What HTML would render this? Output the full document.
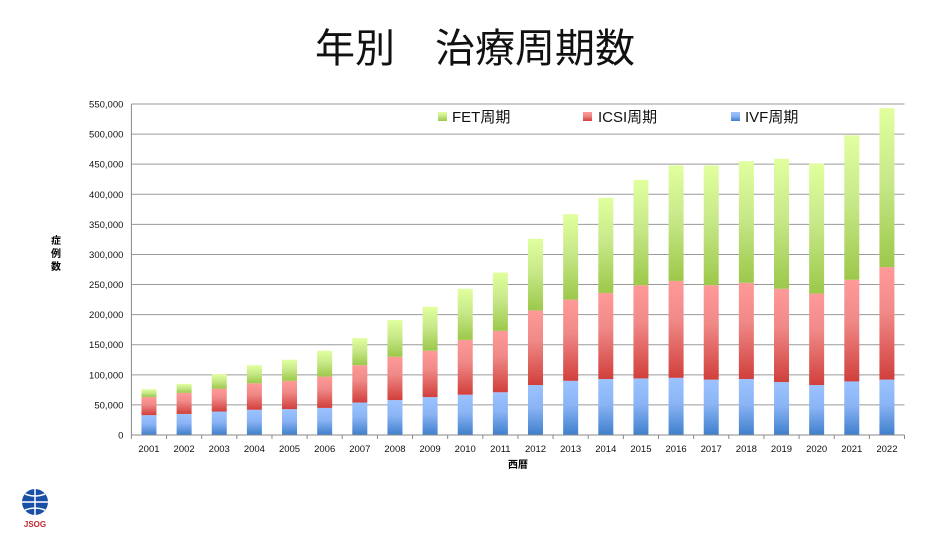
<!DOCTYPE html>
<html><head><meta charset="utf-8"><style>
body{margin:0;background:#fff;width:949px;height:537px;overflow:hidden;font-family:"Liberation Sans","Noto Sans CJK JP",sans-serif}
</style></head><body>
<svg width="949" height="537">
<defs>
<linearGradient id="gb" x1="0" y1="0" x2="0" y2="1"><stop offset="0" stop-color="#9cc3ff"/><stop offset="0.45" stop-color="#8ab4f5"/><stop offset="1" stop-color="#3f7fcc"/></linearGradient>
<linearGradient id="gr" x1="0" y1="0" x2="0" y2="1"><stop offset="0" stop-color="#ff9a98"/><stop offset="0.4" stop-color="#f08a88"/><stop offset="1" stop-color="#d13f3c"/></linearGradient>
<linearGradient id="gg" x1="0" y1="0" x2="0" y2="1"><stop offset="0" stop-color="#e1ff9e"/><stop offset="0.45" stop-color="#c8e98a"/><stop offset="1" stop-color="#9cc84a"/></linearGradient>
</defs>
<text x="475" y="62" font-size="40" text-anchor="middle" fill="#111">年別　治療周期数</text>
<g id="grid"></g>
<g id="bars"></g>
<g id="axes"></g>
<text x="518" y="468" font-size="10" font-weight="bold" text-anchor="middle">西暦</text>
<g font-size="10" font-weight="bold" text-anchor="middle">
<text x="56" y="244">症</text><text x="56" y="257">例</text><text x="56" y="270">数</text></g>
<g font-size="15" fill="#111">
<g><rect x="438" y="112" width="9" height="9" fill="url(#gg)"/><text x="452" y="122">FET周期</text></g>
<g><rect x="583" y="112" width="9" height="9" fill="url(#gr)"/><text x="598" y="122">ICSI周期</text></g>
<g><rect x="731" y="112" width="9" height="9" fill="url(#gb)"/><text x="745" y="122">IVF周期</text></g>
</g>
<g>
<circle cx="35" cy="502" r="13" fill="#1a4fa8"/>
<path d="M22 502h26M35 489v26M25 494q10 4 20 0M25 510q10-4 20 0" stroke="#fff" stroke-width="1.5" fill="none"/>
<text x="35" y="527" font-size="8" font-weight="bold" fill="#c0282d" text-anchor="middle">JSOG</text>
</g>
</svg>
<script>
const years=["2001","2002","2003","2004","2005","2006","2007","2008","2009","2010","2011","2012","2013","2014","2015","2016","2017","2018","2019","2020","2021","2022"];
const ivf=[33000,35000,39000,42000,43000,45000,54000,58000,63000,67000,71000,83000,90000,93000,94000,95000,92000,93000,88000,83000,89000,92000];
const icsi=[30000,35000,38000,44000,47000,52000,62000,72000,77000,91000,102000,124000,135000,143000,155000,161000,157000,160000,155000,152000,169000,187000];
const fet=[13000,15000,24000,30000,35000,43000,45000,61000,73000,85000,97000,119000,142000,158000,175000,192000,199000,202000,216000,216000,240000,264000];
const yTicks=[0,50000,100000,150000,200000,250000,300000,350000,400000,450000,500000,550000];
const NS="http://www.w3.org/2000/svg";
const L=131.4,R=904.5,Y0=435,Ytop=104,YMAX=550000;
const band=(R-L)/years.length,bw=15;
const yS=v=>Y0-(v/YMAX)*(Y0-Ytop);
const xC=i=>L+band*(i+0.5);
function mk(t,a,p){const e=document.createElementNS(NS,t);for(const k in a)e.setAttribute(k,a[k]);p.appendChild(e);return e;}
const grid=document.getElementById('grid'),bars=document.getElementById('bars'),axes=document.getElementById('axes');
yTicks.forEach(v=>{
 const y=yS(v);
 if(v>0){const g=mk('line',{x1:L,x2:R,y1:y,y2:y,stroke:'#9a9a9a','stroke-width':1},grid);
 
 }
 const t=mk('text',{x:L-8,y:y+3.5,'font-size':9.5,'text-anchor':'end',fill:'#111'},axes);
 t.textContent=v.toLocaleString('en-US');
 
 
});
mk('line',{x1:L,x2:L,y1:Ytop,y2:Y0,stroke:'#888'},axes);
mk('line',{x1:L,x2:R,y1:Y0,y2:Y0,stroke:'#888'},axes);
years.forEach((yr,i)=>{
 const x=xC(i);
 mk('line',{x1:L+band*i,x2:L+band*i,y1:Y0,y2:Y0+4,stroke:'#888'},axes);
 const t=mk('text',{x:x,y:Y0+17,'font-size':9.5,'text-anchor':'middle',fill:'#111'},axes);
 t.textContent=yr;
 
 
 let base=0;
 [[ivf,'gb','ivf'],[icsi,'gr','icsi'],[fet,'gg','fet']].forEach(([arr,g,n])=>{
  const top=base+arr[i];
  const r=mk('rect',{x:x-bw/2,y:yS(top),width:bw,height:yS(base)-yS(top),fill:'url(#'+g+')'},bars);
  
  
  base=top;
 });
});
mk('line',{x1:R,x2:R,y1:Y0,y2:Y0+4,stroke:'#888'},axes);
</script>
</body></html>
